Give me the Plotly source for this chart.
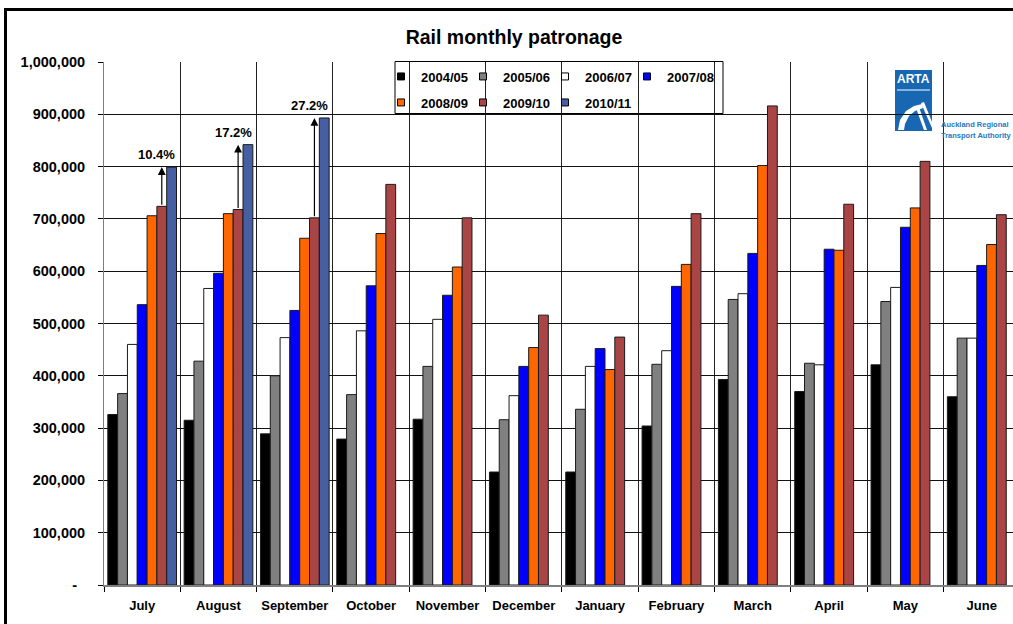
import plotly.graph_objects as go

# ---------------- data ----------------
months = ["July", "August", "September", "October", "November", "December",
          "January", "February", "March", "April", "May", "June"]
series_names = ["2004/05", "2005/06", "2006/07", "2007/08", "2008/09", "2009/10", "2010/11"]

p2004_05 = [326000, 315000, 289000, 279000, 317000, 216000, 216000, 304000, 393000, 370000, 421000, 360000]
p2005_06 = [366000, 428000, 400000, 364000, 418000, 316000, 336000, 422000, 546000, 424000, 542000, 472000]
p2006_07 = [460000, 567000, 473000, 486000, 508000, 362000, 418000, 448000, 557000, 421000, 569000, 472000]
p2007_08 = [536000, 596000, 525000, 572000, 554000, 418000, 452000, 571000, 634000, 642000, 684000, 611000]
p2008_09 = [706000, 710000, 663000, 672000, 608000, 454000, 412000, 613000, 802000, 640000, 721000, 651000]
p2009_10 = [724000, 718000, 702000, 766000, 702000, 516000, 474000, 710000, 916000, 728000, 810000, 708000]
p2010_11 = [799000, 842000, 893000]

growth_labels = ["10.4%", "17.2%", "27.2%"]

y_tick_values = [0, 100000, 200000, 300000, 400000, 500000, 600000, 700000, 800000, 900000, 1000000]
y_tick_labels = ["-\u00a0\u00a0", "100,000", "200,000", "300,000", "400,000", "500,000",
                 "600,000", "700,000", "800,000", "900,000", "1,000,000"]

# ---------------- style ----------------
colors = ["#000000", "#808080", "#FFFFFF", "#0000FF", "#FF6600", "#A94545", "#455FA2"]
FONT = "Liberation Sans, Arial, sans-serif"

W, H = 1013, 624
ML, MR, MT, MB = 104, 0, 62, 39
PW = W - ML - MR
PH = H - MT - MB


def fx(px):
    return (px - ML) / PW


def fy(py):
    return (H - MB - py) / PH


series_values = [p2004_05, p2005_06, p2006_07, p2007_08, p2008_09, p2009_10, p2010_11]

fig = go.Figure()
for name, vals, col in zip(series_names, series_values, colors):
    fig.add_trace(go.Bar(
        x=months[:len(vals)], y=vals, name=name,
        marker=dict(color=col, line=dict(color="#1a1a1a", width=1)),
        showlegend=False,
    ))

# legend keys: one small legend per entry, laid out in a 4 + 3 grid like the original
legend_layouts = {}
for i, (name, col) in enumerate(zip(series_names, colors)):
    key = "legend" if i == 0 else f"legend{i + 1}"
    fig.add_trace(go.Scatter(
        x=[None], y=[None], mode="markers", name=name,
        marker=dict(symbol="square", size=7, color=col, line=dict(color="#000000", width=1)),
        legend=key,
    ))
    row, colno = divmod(i, 4)
    legend_layouts[key] = dict(
        orientation="h", x=fx(381 + 82 * colno), y=fy(61.5 + 26 * row),
        xanchor="left", yanchor="top", bgcolor="rgba(0,0,0,0)", borderwidth=0,
        font=dict(size=13, family=FONT, weight="bold"), itemwidth=30,
    )

n_series = len(series_names)
bargap = 0.1
bw = (1 - bargap) / n_series
red_off = -(1 - bargap) / 2 + bw * 5.5

annotations = []
for i, lab in enumerate(growth_labels):
    xa = i + red_off
    annotations.append(dict(
        x=xa, y=p2010_11[i], ax=xa, ay=p2009_10[i],
        xref="x", yref="y", axref="x", ayref="y",
        showarrow=True, arrowhead=2, arrowsize=1.3, arrowwidth=1.2, arrowcolor="#000000",
        text="",
    ))
    annotations.append(dict(
        x=xa, y=p2010_11[i], xref="x", yref="y", showarrow=False,
        text=lab, yanchor="bottom", xanchor="center", xshift=-5, yshift=3,
        font=dict(size=13, color="#000000", family=FONT, weight="bold"),
    ))

# logo text
annotations.append(dict(x=fx(913.5), y=fy(79), xref="paper", yref="paper", text="ARTA",
                        xanchor="center", yanchor="middle",
                        showarrow=False, font=dict(size=12, color="#FFFFFF", family=FONT, weight="bold")))
annotations.append(dict(x=fx(939), y=fy(118), xref="paper", yref="paper", text="Auckland Regional",
                        showarrow=False, xanchor="left",
                        font=dict(size=7.5, color="#2478C0", family=FONT, weight="bold")))
annotations.append(dict(x=fx(939), y=fy(129), xref="paper", yref="paper", text="Transport Authority",
                        showarrow=False, xanchor="left",
                        font=dict(size=7.5, color="#2478C0", family=FONT, weight="bold")))


def ppath(points):
    s = "M " + " L ".join(f"{fx(x):.5f},{fy(y):.5f}" for x, y in points) + " Z"
    return s


shapes = [
    # white box behind the logo
    dict(type="rect", xref="paper", yref="paper", x0=fx(883), x1=fx(1013), y0=fy(143), y1=fy(62.5),
         fillcolor="#FFFFFF", line=dict(width=0), layer="between"),
    # legend box
    dict(type="rect", xref="paper", yref="paper", x0=fx(395), x1=fx(723), y0=fy(113.5), y1=fy(61.5),
         fillcolor="#FFFFFF", line=dict(color="#000000", width=1), layer="between"),
    # logo blue block
    dict(type="rect", xref="paper", yref="paper", x0=fx(895), x1=fx(932), y0=fy(131), y1=fy(70),
         fillcolor="#1767B2", line=dict(width=0), layer="between"),
    dict(type="line", xref="paper", yref="paper", x0=fx(897), x1=fx(930), y0=fy(90), y1=fy(90),
         line=dict(color="#FFFFFF", width=1), layer="between"),
    dict(type="path", xref="paper", yref="paper", layer="between", fillcolor="#FFFFFF", line=dict(width=0),
         path=ppath([(898, 130), (900, 120), (906, 111), (914, 106), (922, 104), (923, 108),
                     (915, 111), (909, 116), (905, 124), (904, 130)])),
    dict(type="path", xref="paper", yref="paper", layer="between", fillcolor="#FFFFFF", line=dict(width=0),
         path=ppath([(921, 103), (924, 102), (932, 122), (932, 128)])),
    dict(type="path", xref="paper", yref="paper", layer="between", fillcolor="#FFFFFF", line=dict(width=0),
         path=ppath([(916, 108), (919, 107), (927, 130), (924, 130)])),
    # outer chart frame
    dict(type="rect", xref="paper", yref="paper", x0=fx(5.5), x1=fx(1060), y0=fy(680), y1=fy(9.5),
         line=dict(color="#000000", width=3), layer="above"),
]

fig.update_layout(
    width=W, height=H,
    margin=dict(l=ML, r=MR, t=MT, b=MB, pad=0),
    paper_bgcolor="#FFFFFF", plot_bgcolor="#FFFFFF",
    font=dict(family=FONT, size=13, color="#000000", weight="bold"),
    title=dict(text="Rail monthly patronage", x=514 / W, xref="container", xanchor="center",
               y=1 - 37 / H, yref="container", yanchor="middle",
               font=dict(size=19.5, family=FONT, color="#000000", weight="bold")),
    barmode="group", bargap=bargap, bargroupgap=0,
    xaxis=dict(type="category", categoryorder="array", categoryarray=months,
               range=[-0.5, 11.41], tickson="boundaries", ticks="outside", ticklen=5,
               tickcolor="#000000", showgrid=True, gridcolor="#222222", gridwidth=1,
               showline=True, linecolor="#7f7f7f", linewidth=1.5, zeroline=False,
               tickfont=dict(size=13, family=FONT, weight="bold"), ticklabelstandoff=8,
               fixedrange=True),
    yaxis=dict(range=[0, 1000000], tickvals=y_tick_values, ticktext=y_tick_labels,
               ticks="outside", ticklen=5, tickcolor="#000000", showgrid=True,
               gridcolor="#111111", gridwidth=1, showline=True, linecolor="#7f7f7f", linewidth=1,
               zeroline=False, tickfont=dict(size=14.5, family=FONT, weight="bold"),
               ticklabelstandoff=10, fixedrange=True),
    annotations=annotations,
    shapes=shapes,
    **legend_layouts,
)

fig.write_html("out.html", config={"displayModeBar": False},
               post_script="document.body.style.margin='0px';document.body.style.overflow='hidden';")
